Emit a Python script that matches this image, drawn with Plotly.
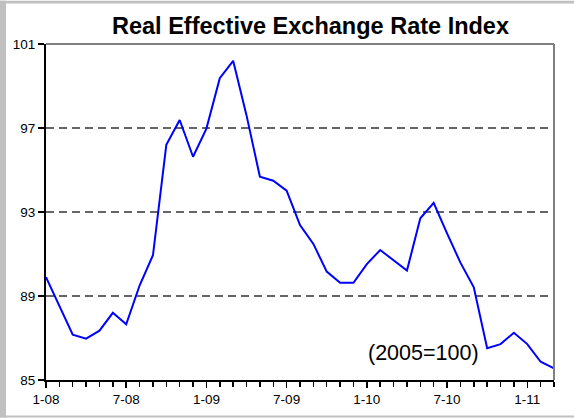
import plotly.graph_objects as go

# Monthly data Jan 2008 - Mar 2011
months = ["1-08","2-08","3-08","4-08","5-08","6-08","7-08","8-08","9-08","10-08","11-08","12-08",
          "1-09","2-09","3-09","4-09","5-09","6-09","7-09","8-09","9-09","10-09","11-09","12-09",
          "1-10","2-10","3-10","4-10","5-10","6-10","7-10","8-10","9-10","10-10","11-10","12-10",
          "1-11","2-11","3-11"]
reer = [89.9, 88.5, 87.16, 86.97, 87.35, 88.2, 87.65, 89.5, 90.94, 96.2, 97.38, 95.63,
        96.97, 99.37, 100.2, 97.6, 94.68, 94.49, 94.02, 92.38, 91.48, 90.16, 89.63, 89.63,
        90.52, 91.19, 90.71, 90.21, 92.7, 93.44, 91.98, 90.59, 89.41, 86.51, 86.71, 87.25,
        86.71, 85.87, 85.56]
y_ticks = [85, 89, 93, 97, 101]
label_every = 6

x_idx = list(range(len(months)))
tickvals = x_idx[::label_every]
ticktext = months[::label_every]

W, H = 574, 418
L, R, T, B = 46, 20, 43.5, 37.5
pw, ph = W - L - R, H - T - B

def px(x):
    return (x - L) / pw

def py(y):
    return (H - B - y) / ph

fig = go.Figure()
fig.add_trace(go.Scatter(x=x_idx, y=reer, mode="lines",
                         line=dict(color="#0000FF", width=2), showlegend=False,
                         hoverinfo="skip"))

fig.update_layout(
    width=W, height=H,
    margin=dict(l=L, r=R, t=T, b=B, pad=0),
    paper_bgcolor="white", plot_bgcolor="white",
    font=dict(family="Arial, Liberation Sans, sans-serif", color="black", size=13.5),
    title=dict(text="<b>Real Effective Exchange Rate Index</b>",
               x=310.5 / W, xanchor="center", y=1 - 26 / H, yanchor="middle",
               font=dict(size=23.5, color="black")),
    xaxis=dict(range=[0, len(months) - 1], tickmode="array", tickvals=tickvals,
               ticktext=ticktext, ticks="outside", ticklen=6, tickwidth=1.5,
               tickcolor="black", showline=True, linecolor="black", linewidth=2,
               showgrid=False, zeroline=False, tickfont=dict(size=13.5),
               minor=dict(dtick=1, tick0=0, ticks="outside", ticklen=5,
                          tickwidth=1.5, tickcolor="black", showgrid=False)),
    yaxis=dict(range=[85, 101], tickmode="array", tickvals=y_ticks,
               ticktext=[str(v) for v in y_ticks], ticks="outside", ticklen=6,
               tickwidth=1.5, tickcolor="black", showline=True, linecolor="black",
               linewidth=2, showgrid=True, gridcolor="#666666", gridwidth=1.3,
               griddash="8px,5px", zeroline=False, tickfont=dict(size=13.5)),
    annotations=[dict(text="(2005=100)", x=px(423.5), y=py(353),
                      xref="paper", yref="paper", xanchor="center", yanchor="middle",
                      showarrow=False, font=dict(size=21.5, color="black"))],
    shapes=[
        # plot frame top & right (gray)
        dict(type="line", xref="paper", yref="paper", x0=0, x1=1, y0=1, y1=1,
             line=dict(color="#808080", width=2)),
        dict(type="line", xref="paper", yref="paper", x0=1, x1=1, y0=0, y1=1,
             line=dict(color="#808080", width=2)),
        # outer chart border (light gray, cropped on right)
        dict(type="rect", xref="paper", yref="paper", x0=px(0), x1=px(6),
             y0=py(H), y1=py(0), fillcolor="#C0C0C0", line=dict(width=0)),
        dict(type="rect", xref="paper", yref="paper", x0=px(0), x1=px(W),
             y0=py(3), y1=py(0), fillcolor="#C0C0C0", line=dict(width=0)),
        dict(type="rect", xref="paper", yref="paper", x0=px(0), x1=px(W),
             y0=py(H), y1=py(416), fillcolor="#C0C0C0", line=dict(width=0)),
    ],
)

fig.write_html("out.html",
               config={"displayModeBar": False, "staticPlot": True},
               post_script="document.body.style.margin='0px';"
                           "document.body.style.overflow='hidden';")
